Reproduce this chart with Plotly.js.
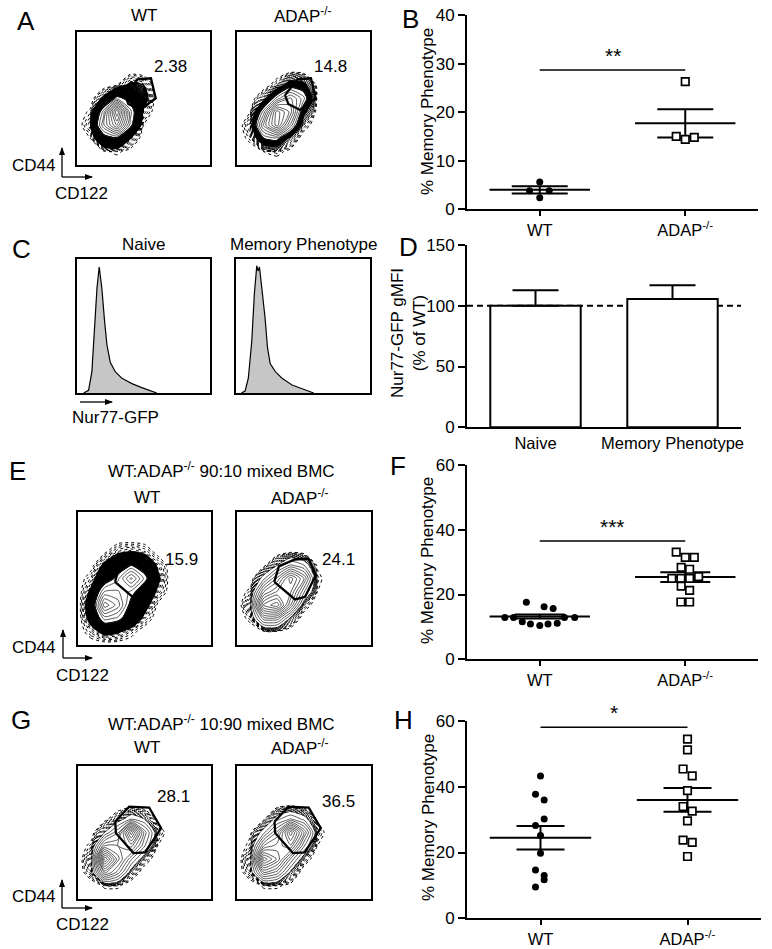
<!DOCTYPE html>
<html><head><meta charset="utf-8">
<script src="https://cdn.plot.ly/plotly-3.0.1.min.js"></script>
<style>body{margin:0;background:#fff}#chart{width:772px;height:949px}</style>
</head><body><div id="chart"></div>
<script>
// ================= DATA =================
const groups = ['WT', 'ADAP<sup>-/-</sup>'];

// Panel B (% memory phenotype)
const bWT = [5.6, 3.8, 3.8, 2.4];
const bWTjit = [0, -0.07, 0.065, 0];
const bKO = [26.3, 15.0, 14.4, 14.8];
const bKOjit = [0, -0.062, 0, 0.062];
const bMean = [4.0, 17.7];
const bSem = [0.75, 2.9];
const bSig = 28.7, bStars = '**';

// Panel D (Nur77-GFP gMFI, % of WT)
const dCats = ['Naive', 'Memory Phenotype'];
const dVals = [100, 105.5];
const dErr = [12.7, 11.3];
const dRef = 100;

// Panel F (90:10 mixed BMC)
const fWT = [17.6, 16.2, 15.7, 12.9, 12.9, 12.9, 12.9, 11.6, 10.9, 10.4, 10.9, 11.1];
const fWTjit = [-0.092, 0.03, 0.092, -0.24, -0.18, 0.17, 0.24, -0.12, -0.064, 0, 0.057, 0.12];
const fKO = [33.1, 31.5, 31.5, 28.4, 27.8, 25.0, 25.0, 25.0, 25.5, 22.6, 21.3, 17.7, 17.7];
const fKOjit = [-0.062, 0, 0.062, -0.028, 0.03, -0.092, -0.03, 0.03, 0.092, -0.028, 0.03, -0.03, 0.03];
const fMean = [13.2, 25.4];
const fSem = [0.6, 1.5];
const fSig = 36.5, fStars = '***';

// Panel H (10:90 mixed BMC)
const hWT = [43.3, 37.7, 36.0, 30.2, 28.2, 25.2, 19.8, 14.7, 13.0, 11.7, 9.5];
const hWTjit = [0, -0.034, 0.025, 0.025, -0.034, 0, 0, -0.034, 0.025, 0.025, -0.034];
const hKO = [54.5, 51.2, 45.4, 43.3, 38.8, 34.0, 32.6, 29.6, 23.8, 23.1, 18.8];
const hKOjit = [0, 0, -0.03, 0.032, 0, -0.03, 0.032, 0, -0.03, 0.032, 0];
const hMean = [24.5, 36.0];
const hSem = [3.55, 3.6];
const hSig = 58.1, hStars = '*';

// Flow gate percentages
const pctA = ['2.38', '14.8'];
const pctE = ['15.9', '24.1'];
const pctG = ['28.1', '36.5'];

// Flow density (contour level) grids, box units 0-100
const gridX = [0, 10, 20, 30, 40, 50, 60, 70];
const gridY = [0, 10, 20, 30, 40, 50, 60, 70, 80, 90];
const zAwt = [
 [0,0,0,0,0,0,0,0],
 [0,0,0.2,0.4,0.1,0,0,0],
 [0,0.3,2.2,2.8,1.0,0,0,0],
 [0,0.8,5,8,3.5,0.3,0,0],
 [0,0.4,4,10,4,0.8,0,0],
 [0,0,1.2,3.5,2.5,1.5,0,0],
 [0,0,0,0.3,1.2,1,0,0],
 [0,0,0,0,0.1,0,0,0],
 [0,0,0,0,0,0,0,0],
 [0,0,0,0,0,0,0,0]];
const zAko = [
 [0,0,0,0,0,0,0,0],
 [0,0,0.4,0.6,0.2,0,0,0],
 [0,0.6,3,3.5,1.2,0,0,0],
 [0,1,6,9,5,0.8,0,0],
 [0,0.4,4,9,7,2.2,0.2,0],
 [0,0,1.2,4,6,4,0.4,0],
 [0,0,0,0.8,2.5,2.2,0.3,0],
 [0,0,0,0,0.3,0.2,0,0],
 [0,0,0,0,0,0,0,0],
 [0,0,0,0,0,0,0,0]];
const zEwt = [
 [0,0,0,0,0,0,0,0],
 [0,0.6,1.3,1.1,0.5,0,0,0],
 [0,1.4,4,3.5,2,0.7,0,0],
 [0,1.7,7,5.5,2.5,1.4,0.2,0],
 [0,1.2,4.5,4.5,3.5,2,0.8,0],
 [0,0.6,2,3.5,6,3.5,1.2,0],
 [0,0.1,1.2,2,3,2.2,0.8,0],
 [0,0,0.2,0.8,1,0.7,0.1,0],
 [0,0,0,0,0,0,0,0],
 [0,0,0,0,0,0,0,0]];
const zEko = [
 [0,0,0,0,0,0,0,0],
 [0,0,0.3,0.3,0,0,0,0],
 [0,0.6,4,4,1.3,0,0,0],
 [0,1.3,8,9,5,0.8,0,0],
 [0,0.6,5,6.5,6.5,3,0.4,0],
 [0,0,2,4.5,7.5,5,0.6,0],
 [0,0,0.2,1.5,3,2.2,0.3,0],
 [0,0,0,0,0.3,0.1,0,0],
 [0,0,0,0,0,0,0,0],
 [0,0,0,0,0,0,0,0]];
const zGwt = [
 [0,0,0,0,0,0,0,0],
 [0,0,0.5,0.5,0,0,0,0],
 [0,0.9,6,4,1,0,0,0],
 [0,1.3,10,6,3,0.8,0,0],
 [0,0.6,5,5,6,3,0.4,0],
 [0,0.1,1.5,3.5,9,4,0.8,0],
 [0,0,0.2,1,2.2,1.5,0.2,0],
 [0,0,0,0,0.2,0,0,0],
 [0,0,0,0,0,0,0,0],
 [0,0,0,0,0,0,0,0]];
const zGko = [
 [0,0,0,0,0,0,0,0],
 [0,0,0.5,0.5,0.2,0,0,0],
 [0,0.9,5,4,1.3,0,0,0],
 [0,1.3,9,7,3.5,0.8,0,0],
 [0,0.6,5,6,7,3,0.4,0],
 [0,0.3,2,4.5,9,5,0.8,0],
 [0,0,0.3,2,3,2,0.3,0],
 [0,0,0,0.2,0.4,0.1,0,0],
 [0,0,0,0,0,0,0,0],
 [0,0,0,0,0,0,0,0]];

// Gates (box units)
const gateAx = [36.1, 45.6, 55.6, 59.2, 47.4, 38.6];
const gateAy = [52.6, 64.4, 65.2, 50.2, 41.4, 45.9];
const gateEx = [27.8, 31.3, 43.3, 53.3, 58.8, 50.8, 43.3];
const gateEy = [47.5, 59.3, 64.3, 65.0, 52.5, 36.2, 34.3];
const gateGx = [28.0, 38.5, 53.5, 62.5, 50.5, 41.7, 28.5];
const gateGy = [58.3, 69.5, 68.8, 53.3, 35.0, 34.5, 49.5];

// Histograms (panel C), box units
const hxNaive = [5, 8.7, 11.2, 13.2, 15, 16.7, 18.7, 20.7, 22.5, 25, 28.7, 33.7, 41.2, 48.7, 56.2, 60];
const hyNaiveFill = [0, 2.5, 17.5, 52.4, 79.8, 93.5, 77.3, 52.4, 35, 22.4, 15, 10, 6.3, 3.7, 1.3, 0];
const hyNaiveLine = [0, 2, 16, 50, 78, 94, 78, 54, 36, 23, 16, 11, 7, 4, 1.5, 0];
const hxMem = [4, 6.8, 9.2, 11.8, 13.7, 15.5, 16.5, 17.5, 19.3, 21.7, 23.5, 25.5, 29.3, 34.3, 41.8, 49.3, 54, 58];
const hyMemFill = [0, 1.3, 10, 37.4, 72.3, 93.5, 90, 93.5, 77.3, 55, 32.5, 21.2, 15, 10, 5.5, 2.5, 1, 0];
const hyMemLine = [0, 1.5, 11, 39, 74, 95, 91, 94, 78, 56, 34, 22, 16, 11, 6, 3, 1, 0];

// ================= HELPERS =================
const W = 772, H = 949;
const px = X => X / W, py = Y => 1 - Y / H;
const dx = (a, b) => [a / W, b / W];
const dy = (top, bot) => [1 - bot / H, 1 - top / H];
const FONT = 'Liberation Sans, Arial, Helvetica, sans-serif';
const SMOOTH = 0.6;

function txt(X, Y, text, size, extra) {
  return Object.assign({xref:'paper', yref:'paper', x:px(X), y:py(Y), text, showarrow:false,
    font:{size:size||16, color:'#000', family:FONT}, xanchor:'center', yanchor:'middle'}, extra||{});
}

const traces = [];
const annotations = [];
const shapes = [];
const layout = {
  width: W, height: H, margin:{l:0, r:0, t:0, b:0}, paper_bgcolor:'#fff', plot_bgcolor:'rgba(0,0,0,0)',
  showlegend:false, font:{family:FONT, color:'#000', size:16}
};

function arrowShape(x0, y0, x1, y1) {
  shapes.push({type:'line', xref:'paper', yref:'paper', x0:px(x0), y0:py(y0), x1:px(x1), y1:py(y1),
    line:{color:'#000', width:1.3}});
  let p;
  if (x0 === x1) {
    p = `M${px(x1)},${py(y1 - 1)} L${px(x1 - 3)},${py(y1 + 7)} L${px(x1 + 3)},${py(y1 + 7)} Z`;
  } else {
    p = `M${px(x1 + 1)},${py(y1)} L${px(x1 - 7)},${py(y1 - 3)} L${px(x1 - 7)},${py(y1 + 3)} Z`;
  }
  shapes.push({type:'path', xref:'paper', yref:'paper', path:p, fillcolor:'#000', line:{width:0}});
}

// ----- Right panels -----
function rightAxes(n, xdom, ydom, yrange, dtick, ticktext, xticks) {
  const xs = n === 1 ? '' : String(n);
  layout['xaxis' + xs] = {domain:xdom, anchor:'y' + xs, range:[-0.5, 1.5], tickvals:[0, 1], ticktext,
    showline:true, linewidth:2, linecolor:'#000', ticks: xticks ? 'outside' : '', ticklen:5, tickwidth:2,
    tickcolor:'#000', showgrid:false, zeroline:false, tickfont:{size:16.5}, fixedrange:true};
  layout['yaxis' + xs] = {domain:ydom, anchor:'x' + xs, range:yrange, dtick, tick0:0,
    showline:true, linewidth:2, linecolor:'#000', ticks:'outside', ticklen:7, tickwidth:2, tickcolor:'#000',
    showgrid:false, zeroline:false, tickfont:{size:17}, fixedrange:true};
}
rightAxes(1, dx(467, 758), dy(15, 209.3), [0, 40], 10, groups, true);
rightAxes(2, dx(467, 741), dy(245, 427.3), [0, 150], 50, dCats, false);
rightAxes(3, dx(467, 758), dy(465, 659.3), [0, 60], 20, groups, true);
rightAxes(4, dx(467, 761), dy(721, 918.3), [0, 60], 20, groups, true);

function dotPanel(n, wt, wtj, ko, koj, mean, sem, capW, sig, stars) {
  const xa = n === 1 ? 'x' : 'x' + n, ya = n === 1 ? 'y' : 'y' + n;
  traces.push({type:'scatter', mode:'markers', xaxis:xa, yaxis:ya, x:[0, 1], y:mean,
    marker:{size:1, color:'rgba(0,0,0,0)'}, hoverinfo:'skip',
    error_x:{type:'data', array:[0.345, 0.345], width:0, thickness:2, color:'#000'},
    error_y:{type:'data', array:sem, width:capW, thickness:2, color:'#000'}});
  traces.push({type:'scatter', mode:'markers', xaxis:xa, yaxis:ya, x:wtj.map(j => 0 + j), y:wt,
    marker:{symbol:'circle', size:7, color:'#000'}});
  traces.push({type:'scatter', mode:'markers', xaxis:xa, yaxis:ya, x:koj.map(j => 1 + j), y:ko,
    marker:{symbol:'square', size:7.5, color:'#fff', line:{color:'#000', width:1.7}}});
  shapes.push({type:'line', xref:xa, yref:ya, x0:0, x1:1, y0:sig, y1:sig, line:{color:'#000', width:1.5}});
  annotations.push({xref:xa, yref:ya, x:0.5, y:sig, text:stars, showarrow:false, yanchor:'bottom',
    xanchor:'center', yshift:1, font:{size:21, color:'#000', family:FONT}});
}
dotPanel(1, bWT, bWTjit, bKO, bKOjit, bMean, bSem, 28, bSig, bStars);
dotPanel(3, fWT, fWTjit, fKO, fKOjit, fMean, fSem, 25, fSig, fStars);
dotPanel(4, hWT, hWTjit, hKO, hKOjit, hMean, hSem, 24, hSig, hStars);

// Panel D bars
shapes.push({type:'line', xref:'x2', yref:'y2', x0:-0.5, x1:1.5, y0:dRef, y1:dRef, layer:'below',
  line:{color:'#000', width:2, dash:'6px,4px'}});
traces.push({type:'bar', xaxis:'x2', yaxis:'y2', x:[0, 1], y:dVals, width:0.66,
  marker:{color:'#fff', line:{color:'#000', width:2}},
  error_y:{type:'data', symmetric:false, array:dErr, arrayminus:[0, 0], width:23, thickness:2, color:'#000'}});

// Y titles
annotations.push(txt(427, 112, '% Memory Phenotype', 17, {textangle:-90}));
annotations.push(txt(409, 333, 'Nur77-GFP gMFI<br>(% of WT)', 17, {textangle:-90}));
annotations.push(txt(427, 561, '% Memory Phenotype', 17, {textangle:-90}));
annotations.push(txt(428, 818, '% Memory Phenotype', 17, {textangle:-90}));

// ----- Flow panels -----
function boxAxes(n, xdom, ydom) {
  const base = {range:[0, 100], autorange:false, showline:true, mirror:true, linewidth:2, linecolor:'#000',
    showticklabels:false, ticks:'', showgrid:false, zeroline:false, fixedrange:true};
  layout['xaxis' + n] = Object.assign({domain:xdom, anchor:'y' + n}, base);
  layout['yaxis' + n] = Object.assign({domain:ydom, anchor:'x' + n}, base);
}
function contourLines(xa, ya, z, s, e, step, color, width, dash) {
  traces.push({type:'contour', x:gridX, y:gridY, z, xaxis:xa, yaxis:ya, autocontour:false,
    contours:{start:s, end:e, size:step, coloring:'none'},
    line:{color, width, dash, smoothing:SMOOTH}, showscale:false, hoverinfo:'skip'});
}
function flow(n, z, bands, lineStart, gx, gy) {
  const xa = 'x' + n, ya = 'y' + n;
  bands.forEach(b => contourLines(xa, ya, z, b.s, b.e, b.step, b.c, b.w, b.dash));
  contourLines(xa, ya, z, lineStart, 14, 0.7, '#222', 0.75, 'solid');
  traces.push({type:'scatter', mode:'lines', xaxis:xa, yaxis:ya, x:gx.concat([gx[0]]), y:gy.concat([gy[0]]),
    line:{color:'#000', width:2.3}, hoverinfo:'skip'});
}
function pctLabel(n, bx, by, text) {
  annotations.push({xref:'x' + n, yref:'y' + n, x:bx, y:by, text, showarrow:false,
    font:{size:17, color:'#000', family:FONT}, xanchor:'center', yanchor:'middle'});
}

boxAxes(5, dx(77, 210), dy(32, 165));
boxAxes(6, dx(237, 370), dy(32, 165));
boxAxes(7, dx(77, 210), dy(259, 393));
boxAxes(8, dx(236, 370), dy(259, 393));
boxAxes(9, dx(78, 211), dy(512, 645));
boxAxes(10, dx(237, 371), dy(512, 645));
boxAxes(11, dx(78, 211), dy(766, 899));
boxAxes(12, dx(237, 371), dy(766, 899));

const speck = (s, e) => ({s, e, step:0.12, c:'#000', w:1, dash:'dot'});
const solid = (s, e, st) => ({s, e, step:st, c:'#000', w:1.6, dash:'solid'});
flow(5, zAwt, [speck(0.3, 1), solid(1, 3, 0.07)], 3, gateAx, gateAy);
flow(6, zAko, [speck(0.4, 1.8), solid(1.8, 3, 0.08)], 3, gateAx, gateAy);
flow(9, zEwt, [speck(0.3, 1), solid(1, 3, 0.06)], 3, gateEx, gateEy);
flow(10, zEko, [speck(0.4, 1.5)], 1.5, gateEx, gateEy);
flow(11, zGwt, [speck(0.4, 1.5)], 1.5, gateGx, gateGy);
flow(12, zGko, [speck(0.4, 1.5)], 1.5, gateGx, gateGy);

pctLabel(5, 70, 74, pctA[0]); pctLabel(6, 70, 74, pctA[1]);
pctLabel(9, 78, 64, pctE[0]); pctLabel(10, 76, 64, pctE[1]);
pctLabel(11, 72, 77, pctG[0]); pctLabel(12, 76, 73, pctG[1]);

// Histograms
traces.push({type:'scatter', mode:'lines', xaxis:'x7', yaxis:'y7', x:hxNaive, y:hyNaiveFill, fill:'tozeroy',
  fillcolor:'#c6c6c6', line:{width:0}, hoverinfo:'skip'});
traces.push({type:'scatter', mode:'lines', xaxis:'x7', yaxis:'y7', x:hxNaive, y:hyNaiveLine,
  line:{color:'#000', width:1.2}, hoverinfo:'skip'});
traces.push({type:'scatter', mode:'lines', xaxis:'x8', yaxis:'y8', x:hxMem, y:hyMemFill, fill:'tozeroy',
  fillcolor:'#c6c6c6', line:{width:0}, hoverinfo:'skip'});
traces.push({type:'scatter', mode:'lines', xaxis:'x8', yaxis:'y8', x:hxMem, y:hyMemLine,
  line:{color:'#000', width:1.2}, hoverinfo:'skip'});

// ----- Text labels -----
const letters = [['A', 26, 21], ['B', 410, 19], ['C', 21, 249], ['D', 408, 247],
                 ['E', 17, 471], ['F', 398, 466], ['G', 21, 720], ['H', 403, 720]];
letters.forEach(l => annotations.push(txt(l[1], l[2], l[0], 26)));

annotations.push(txt(144, 15, groups[0], 17));
annotations.push(txt(303, 15, groups[1], 17));
annotations.push(txt(143, 245, dCats[0], 17));
annotations.push(txt(303, 245, dCats[1], 17));
annotations.push(txt(221, 470, 'WT:ADAP<sup>-/-</sup> 90:10 mixed BMC', 17));
annotations.push(txt(147, 497, groups[0], 17));
annotations.push(txt(300, 497, groups[1], 17));
annotations.push(txt(221, 723, 'WT:ADAP<sup>-/-</sup> 10:90 mixed BMC', 17));
annotations.push(txt(147, 747, groups[0], 17));
annotations.push(txt(300, 747, groups[1], 17));

// Axis arrows and labels
arrowShape(62, 177, 62, 148); arrowShape(62, 177, 92, 177);
annotations.push(txt(33, 165, 'CD44', 17), txt(81, 194, 'CD122', 17));
arrowShape(80, 402, 112, 402);
annotations.push(txt(115, 418, 'Nur77-GFP', 17));
arrowShape(63, 658, 63, 630); arrowShape(63, 658, 92, 658);
annotations.push(txt(33, 647, 'CD44', 17), txt(82, 675, 'CD122', 17));
arrowShape(62, 908, 62, 880); arrowShape(62, 908, 92, 908);
annotations.push(txt(33, 896, 'CD44', 17), txt(82, 924, 'CD122', 17));

layout.annotations = annotations;
layout.shapes = shapes;

Plotly.newPlot('chart', traces, layout, {displayModeBar:false, staticPlot:true});
</script>
</body></html>
